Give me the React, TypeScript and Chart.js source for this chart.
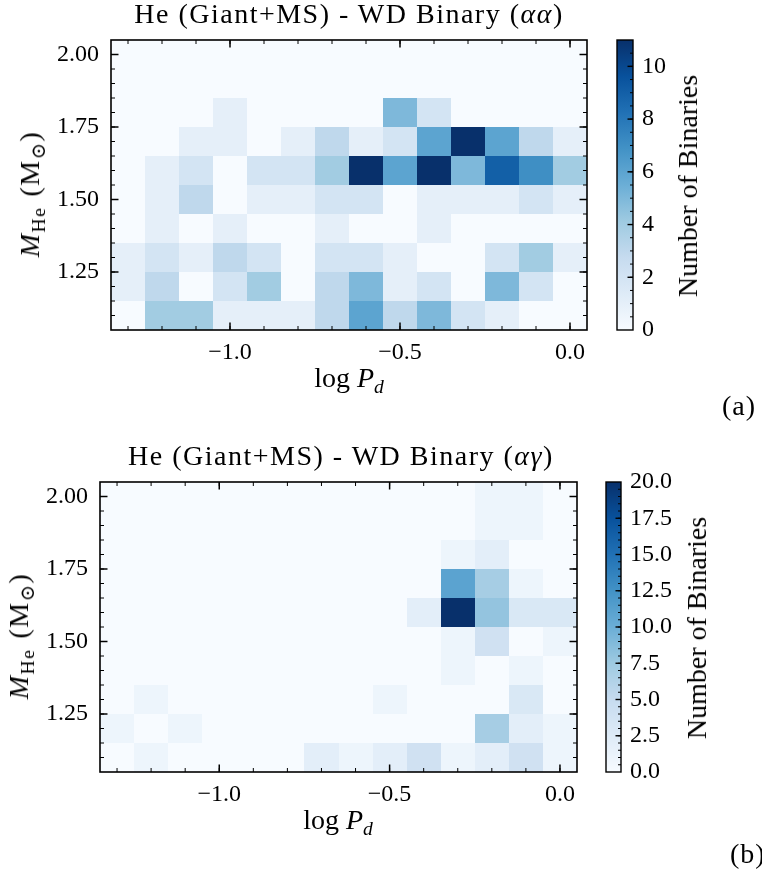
import React, { useEffect, useRef } from "react";
import { Chart, registerables } from "chart.js";
Chart.register(...registerables);

// ---------- DATA ----------
const logPCenters = [-1.3, -1.2, -1.1, -1.0, -0.9, -0.8, -0.7, -0.6, -0.5, -0.4, -0.3, -0.2, -0.1, 0.0];
const massCenters = [1.1, 1.2, 1.3, 1.4, 1.5, 1.6, 1.7, 1.8, 1.9, 2.0];
const logPBinWidth = 0.1;
const massBinWidth = 0.1;

// rows follow massCenters (bottom -> top), columns follow logPCenters
const countsAlphaAlpha = [
  [0, 4, 4, 1, 1, 1, 3, 6, 3, 5, 2, 1, 0, 0],
  [1, 3, 0, 2, 4, 0, 3, 5, 1, 2, 0, 5, 2, 0],
  [1, 2, 1, 3, 2, 0, 2, 2, 1, 0, 0, 2, 4, 1],
  [0, 1, 0, 1, 0, 0, 1, 0, 0, 1, 0, 0, 0, 0],
  [0, 1, 3, 0, 1, 1, 2, 2, 0, 1, 1, 1, 2, 1],
  [0, 1, 2, 0, 2, 2, 4, 11, 6, 11, 5, 9, 7, 4],
  [0, 0, 1, 1, 0, 1, 3, 1, 2, 6, 11, 6, 3, 1],
  [0, 0, 0, 1, 0, 0, 0, 0, 5, 2, 0, 0, 0, 0],
  [0, 0, 0, 0, 0, 0, 0, 0, 0, 0, 0, 0, 0, 0],
  [0, 0, 0, 0, 0, 0, 0, 0, 0, 0, 0, 0, 0, 0],
];
const countsAlphaGamma = [
  [0, 1, 0, 0, 0, 0, 2, 1, 2, 4, 1, 2, 4, 1],
  [1, 0, 1, 0, 0, 0, 0, 0, 0, 0, 0, 7, 2, 1],
  [0, 1, 0, 0, 0, 0, 0, 0, 1, 0, 0, 0, 3, 0],
  [0, 0, 0, 0, 0, 0, 0, 0, 0, 0, 1, 0, 1, 0],
  [0, 0, 0, 0, 0, 0, 0, 0, 0, 0, 1, 4, 0, 1],
  [0, 0, 0, 0, 0, 0, 0, 0, 0, 2, 20, 8, 3, 3],
  [0, 0, 0, 0, 0, 0, 0, 0, 0, 0, 11, 7, 1, 0],
  [0, 0, 0, 0, 0, 0, 0, 0, 0, 0, 1, 2, 0, 0],
  [0, 0, 0, 0, 0, 0, 0, 0, 0, 0, 0, 1, 1, 0],
  [0, 0, 0, 0, 0, 0, 0, 0, 0, 0, 0, 1, 1, 0],
];

const xTickValues = [-1.0, -0.5, 0.0];
const yTickValues = [1.25, 1.5, 1.75, 2.0];
const cbarTicksAA = [0, 2, 4, 6, 8, 10];
const cbarTicksAG = [0, 2.5, 5, 7.5, 10, 12.5, 15, 17.5, 20];

// ---------- STYLE ----------
const FONT = "'Liberation Serif', 'DejaVu Serif', serif";
const TICK_SIZE = 24;
const LABEL_SIZE = 28;
const BLUES = ["#f7fbff", "#deebf7", "#c6dbef", "#9ecae1", "#6baed6", "#4292c6", "#2171b5", "#08519c", "#08306b"];

function hexRgb(h: string) {
  return [parseInt(h.slice(1, 3), 16), parseInt(h.slice(3, 5), 16), parseInt(h.slice(5, 7), 16)];
}
const BLUES_RGB = BLUES.map(hexRgb);
function blues(t: number) {
  const tt = Math.max(0, Math.min(1, t));
  const s = tt * (BLUES_RGB.length - 1);
  const i = Math.min(BLUES_RGB.length - 2, Math.floor(s));
  const f = s - i;
  const a = BLUES_RGB[i], b = BLUES_RGB[i + 1];
  const c = a.map((v, k) => Math.round(v + (b[k] - v) * f));
  return `rgb(${c[0]},${c[1]},${c[2]})`;
}

const fmtNum = (v: number, d: number) => {
  const s = Math.abs(v).toFixed(d);
  return v < -1e-9 ? "\u2212" + s : s;
};

function rangeStep(a: number, b: number, step: number) {
  const out: number[] = [];
  const n = Math.round((b - a) / step);
  for (let i = 0; i <= n; i++) out.push(+(a + i * step).toFixed(6));
  return out;
}

// ---------- CHART CONFIGS ----------
function heatConfig(counts: number[][], plotLeft: number, plotTop: number, plotRight: number, plotBottom: number, cw: number, ch: number) {
  const vmax = Math.max(...counts.flat());
  const xMin = logPCenters[0] - logPBinWidth / 2;
  const xMax = logPCenters[logPCenters.length - 1] + logPBinWidth / 2;
  const yMin = massCenters[0] - massBinWidth / 2;
  const yMax = massCenters[massCenters.length - 1] + massBinWidth / 2;

  const cellsPlugin = {
    id: "cells",
    beforeDatasetsDraw(chart: any) {
      const { ctx, scales } = chart;
      const xs = scales.x, ys = scales.y;
      ctx.save();
      counts.forEach((row, i) => {
        row.forEach((v, j) => {
          const x0 = Math.round(xs.getPixelForValue(logPCenters[j] - logPBinWidth / 2));
          const x1 = Math.round(xs.getPixelForValue(logPCenters[j] + logPBinWidth / 2));
          const y0 = Math.round(ys.getPixelForValue(massCenters[i] + massBinWidth / 2));
          const y1 = Math.round(ys.getPixelForValue(massCenters[i] - massBinWidth / 2));
          ctx.fillStyle = blues(v / vmax);
          ctx.fillRect(x0, y0, x1 - x0, y1 - y0);
        });
      });
      ctx.restore();
    },
  };

  const xMinor = rangeStep(-1.3, 0.0, 0.1);
  const yMinor = rangeStep(1.05, 2.05, 0.05);
  const framePlugin = {
    id: "frame",
    afterDraw(chart: any) {
      const { ctx, chartArea: a, scales } = chart;
      const xs = scales.x, ys = scales.y;
      ctx.save();
      ctx.strokeStyle = "#000";
      const line = (x0: number, y0: number, x1: number, y1: number) => {
        ctx.beginPath(); ctx.moveTo(x0, y0); ctx.lineTo(x1, y1); ctx.stroke();
      };
      ctx.lineWidth = 1;
      xMinor.forEach((v) => {
        const p = xs.getPixelForValue(v);
        line(p, a.bottom, p, a.bottom - 4);
        line(p, a.top, p, a.top + 4);
      });
      yMinor.forEach((v) => {
        const p = ys.getPixelForValue(v);
        if (p < a.top + 1 || p > a.bottom - 1) return;
        line(a.left, p, a.left + 4, p);
        line(a.right, p, a.right - 4, p);
      });
      ctx.lineWidth = 1.5;
      xTickValues.forEach((v) => {
        const p = xs.getPixelForValue(v);
        line(p, a.bottom, p, a.bottom - 7.5);
        line(p, a.top, p, a.top + 7.5);
      });
      yTickValues.forEach((v) => {
        const p = ys.getPixelForValue(v);
        line(a.left, p, a.left + 7.5, p);
        line(a.right, p, a.right - 7.5, p);
      });
      ctx.lineWidth = 1.6;
      ctx.strokeRect(a.left, a.top, a.right - a.left, a.bottom - a.top);
      ctx.restore();
    },
  };

  return {
    type: "scatter",
    data: { datasets: [{ data: [] as any[] }] },
    options: {
      animation: false,
      responsive: false,
      events: [],
      layout: { padding: { left: 0, top: plotTop, right: cw - plotRight, bottom: 0 } },
      plugins: { legend: { display: false }, tooltip: { enabled: false } },
      scales: {
        x: {
          type: "linear",
          min: xMin,
          max: xMax,
          grid: { display: false, drawTicks: false },
          border: { display: false },
          afterBuildTicks: (s: any) => { s.ticks = xTickValues.map((v) => ({ value: v })); },
          afterFit: (s: any) => { s.height = ch - plotBottom; },
          ticks: {
            padding: 8,
            maxRotation: 0,
            autoSkip: false,
            color: "#000",
            font: { family: FONT, size: TICK_SIZE },
            callback: (v: any) => fmtNum(Number(v), 1),
          },
        },
        y: {
          type: "linear",
          min: yMin,
          max: yMax,
          grid: { display: false, drawTicks: false },
          border: { display: false },
          afterBuildTicks: (s: any) => { s.ticks = yTickValues.map((v) => ({ value: v })); },
          afterFit: (s: any) => { s.width = plotLeft; },
          ticks: {
            padding: 12,
            autoSkip: false,
            color: "#000",
            font: { family: FONT, size: TICK_SIZE },
            callback: (v: any) => fmtNum(Number(v), 2),
          },
        },
      },
    },
    plugins: [cellsPlugin, framePlugin],
  };
}

function cbarConfig(counts: number[][], ticks: number[], decimals: number, barLeft: number, barRight: number, barTop: number, barBottom: number, cw: number, ch: number) {
  const vmax = Math.max(...counts.flat());
  const minor = rangeStep(0, vmax, 0.5);
  const barPlugin = {
    id: "bar",
    beforeDatasetsDraw(chart: any) {
      const { ctx, chartArea: a, scales } = chart;
      const ys = scales.y;
      const y0 = ys.getPixelForValue(0), y1 = ys.getPixelForValue(vmax);
      const g = ctx.createLinearGradient(0, y0, 0, y1);
      BLUES.forEach((c, k) => g.addColorStop(k / (BLUES.length - 1), c));
      ctx.save();
      ctx.fillStyle = g;
      ctx.fillRect(a.left, y1, a.right - a.left, y0 - y1);
      ctx.restore();
    },
    afterDraw(chart: any) {
      const { ctx, chartArea: a, scales } = chart;
      const ys = scales.y;
      ctx.save();
      ctx.strokeStyle = "#000";
      ctx.lineWidth = 1;
      minor.forEach((v) => {
        const p = ys.getPixelForValue(v);
        if (p < a.top + 1 || p > a.bottom - 1) return;
        ctx.beginPath(); ctx.moveTo(a.right, p); ctx.lineTo(a.right - 3, p); ctx.stroke();
      });
      ctx.lineWidth = 1.4;
      ticks.forEach((v) => {
        const p = ys.getPixelForValue(v);
        if (p < a.top + 1 || p > a.bottom - 1) return;
        ctx.beginPath(); ctx.moveTo(a.right, p); ctx.lineTo(a.right - 5.5, p); ctx.stroke();
      });
      ctx.lineWidth = 1.4;
      ctx.strokeRect(a.left, a.top, a.right - a.left, a.bottom - a.top);
      ctx.restore();
    },
  };
  return {
    type: "scatter",
    data: { datasets: [{ data: [] as any[] }] },
    options: {
      animation: false,
      responsive: false,
      events: [],
      layout: { padding: { left: barLeft, top: barTop, right: 0, bottom: ch - barBottom } },
      plugins: { legend: { display: false }, tooltip: { enabled: false } },
      scales: {
        x: { type: "linear", display: false, min: 0, max: 1 },
        y: {
          type: "linear",
          position: "right",
          min: 0,
          max: vmax,
          grid: { display: false, drawTicks: false },
          border: { display: false },
          afterBuildTicks: (s: any) => { s.ticks = ticks.map((v) => ({ value: v })); },
          afterFit: (s: any) => { s.width = cw - barRight; },
          ticks: {
            padding: 9,
            autoSkip: false,
            color: "#000",
            font: { family: FONT, size: TICK_SIZE },
            callback: (v: any) => fmtNum(Number(v), decimals),
          },
        },
      },
    },
    plugins: [barPlugin],
  };
}

// ---------- COMPONENTS ----------
function ChartCanvas({ make, left, top, w, h }: { make: () => any; left: number; top: number; w: number; h: number }) {
  const ref = useRef<HTMLCanvasElement>(null);
  useEffect(() => {
    const c = new Chart(ref.current as HTMLCanvasElement, make());
    return () => c.destroy();
  }, []);
  return (
    <canvas
      ref={ref}
      width={w}
      height={h}
      style={{ position: "absolute", left, top, width: w, height: h, display: "block" }}
    />
  );
}

function Txt({ x, y, align = "center", size = LABEL_SIZE, spacing = 0, children }: any) {
  return (
    <div
      style={{
        position: "absolute",
        left: x,
        top: y - size * 0.84,
        transform: align === "center" ? "translateX(-50%)" : undefined,
        fontFamily: FONT,
        fontSize: size,
        lineHeight: `${size}px`,
        letterSpacing: spacing,
        whiteSpace: "nowrap",
        color: "#000",
      }}
    >
      {children}
    </div>
  );
}
function VTxt({ cx, cy, size = LABEL_SIZE, spacing = 0, children }: any) {
  return (
    <div
      style={{
        position: "absolute",
        left: cx,
        top: cy,
        transform: "translate(-50%, -50%) rotate(-90deg)",
        fontFamily: FONT,
        fontSize: size,
        lineHeight: `${size}px`,
        letterSpacing: spacing,
        whiteSpace: "nowrap",
        color: "#000",
      }}
    >
      {children}
    </div>
  );
}
const Sub = ({ children }: any) => (
  <span style={{ fontSize: "70%", position: "relative", top: "0.3em", lineHeight: 0 }}>{children}</span>
);

const YLabel = () => (
  <>
    <i>M</i>
    <Sub>He</Sub>
    <span style={{ marginLeft: 10 }}>(M</span>
    <Sub>{"\u2299"}</Sub>)
  </>
);
const XLabel = () => (
  <>
    log <i>P</i>
    <Sub>
      <i>d</i>
    </Sub>
  </>
);

export default function App() {
  const OFF = 442;
  return (
    <div
      style={{
        position: "absolute",
        left: 0,
        top: 0,
        width: 762,
        height: 872,
        overflow: "hidden",
        background: "#fff",
      }}
    >
      {/* Panel (a) */}
      <ChartCanvas make={() => heatConfig(countsAlphaAlpha, 111, 40, 587, 330, 600, 400)} left={0} top={0} w={600} h={400} />
      <ChartCanvas make={() => cbarConfig(countsAlphaAlpha, cbarTicksAA, 0, 17, 33, 40, 330, 162, 400)} left={600} top={0} w={162} h={400} />
      <Txt x={349} y={24} spacing={1.5}>
        He (Giant+MS) - WD Binary (<i>{"\u03b1\u03b1"}</i>)
      </Txt>
      <Txt x={349} y={388}>
        <XLabel />
      </Txt>
      <VTxt cx={30} cy={194} spacing={1.5}>
        <YLabel />
      </VTxt>
      <VTxt cx={688} cy={186}>Number of Binaries</VTxt>
      <Txt x={722} y={416} align="left" spacing={1}>(a)</Txt>

      {/* Panel (b) */}
      <ChartCanvas make={() => heatConfig(countsAlphaGamma, 100, 40, 577, 330, 600, 400)} left={0} top={OFF} w={600} h={400} />
      <ChartCanvas make={() => cbarConfig(countsAlphaGamma, cbarTicksAG, 1, 17, 32, 40, 330, 173, 400)} left={589} top={OFF} w={173} h={400} />
      <Txt x={341} y={24 + OFF} spacing={1.5}>
        He (Giant+MS) - WD Binary (<i>{"\u03b1\u03b3"}</i>)
      </Txt>
      <Txt x={338} y={388 + OFF}>
        <XLabel />
      </Txt>
      <VTxt cx={19} cy={194 + OFF} spacing={1.5}>
        <YLabel />
      </VTxt>
      <VTxt cx={697} cy={186 + OFF}>Number of Binaries</VTxt>
      <Txt x={730} y={864} align="left" spacing={1}>(b)</Txt>
    </div>
  );
}
